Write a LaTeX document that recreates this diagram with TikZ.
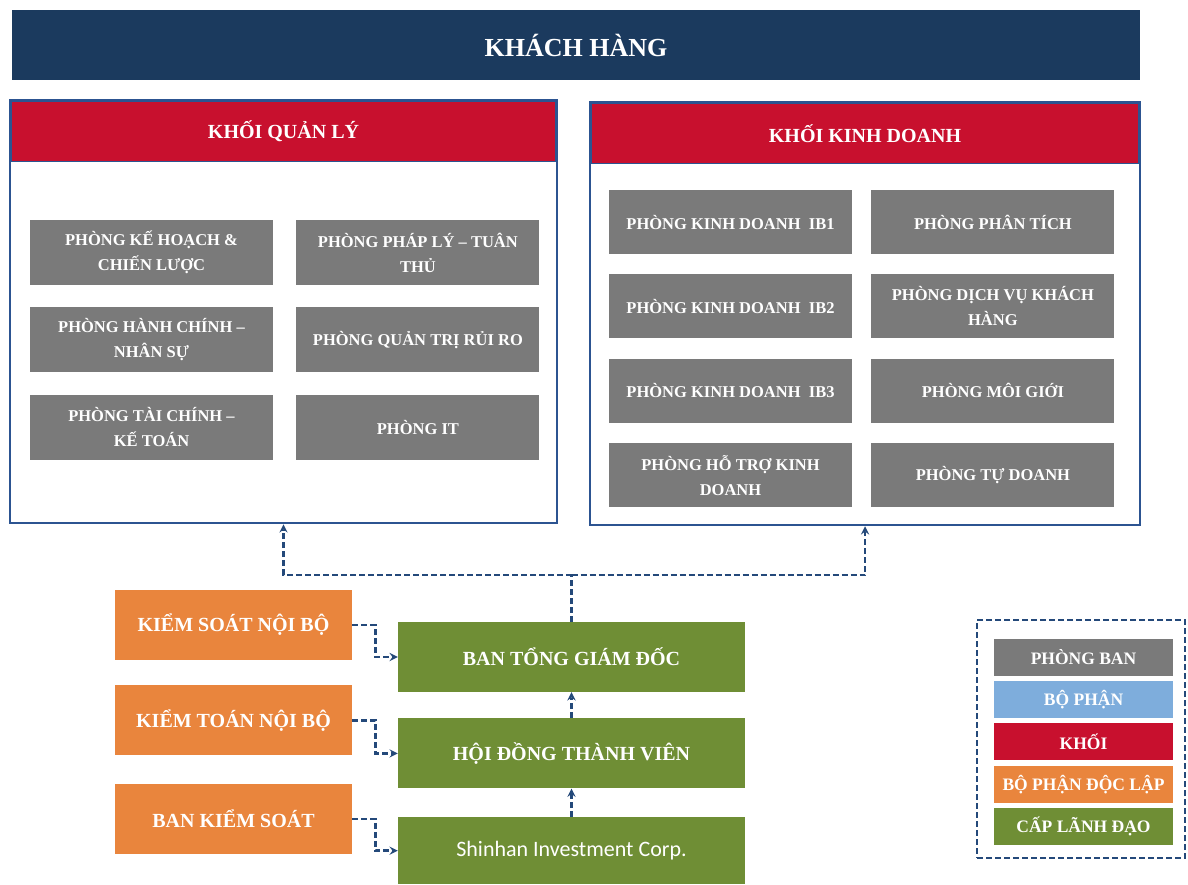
\documentclass[tikz,border=0pt]{standalone}
\usepackage{fontspec}
\setmainfont{Liberation Serif}
\newfontfamily\corpfont{Carlito}
\usetikzlibrary{
  arrows,
  positioning
}
\definecolor{navy}{HTML}{1B3A5E}
\definecolor{khoired}{HTML}{C8102E}
\definecolor{phonggrey}{HTML}{7A7A7A}
\definecolor{bpblue}{HTML}{7EADDC}
\definecolor{doclap}{HTML}{E9853D}
\definecolor{lanhdao}{HTML}{6F8E35}
\definecolor{frameblue}{HTML}{2C5491}
\definecolor{linkblue}{HTML}{24497A}
\tikzset{
  >=stealth,
  x = 1pt, y = -1pt,
  box/.style = {text=white, align=center, inner sep=2pt},
  phong/.style = {box, fill=phonggrey, minimum width=243pt, minimum height=65pt,
    font=\bfseries\fontsize{16.5}{25}\selectfont},
  khoi/.style = {box, fill=khoired, draw=frameblue, line width=1.5pt,
    font=\bfseries\fontsize{20}{24}\selectfont},
  khung/.style = {draw=frameblue, line width=2.5pt},
  doclap/.style = {box, fill=doclap, minimum width=237pt, minimum height=70pt,
    font=\bfseries\fontsize{20}{24}\selectfont},
  lanhdao/.style = {box, fill=lanhdao, minimum width=347pt, minimum height=70pt,
    font=\bfseries\fontsize{20}{24}\selectfont},
  chuthich/.style = {box, minimum width=179pt, minimum height=37pt,
    font=\bfseries\fontsize{17.5}{20}\selectfont},
  link/.style = {draw=linkblue, line width=2.6pt, dash pattern=on 6pt off 3pt},
}
\begin{document}
\begin{tikzpicture}
  \useasboundingbox (0,0) rectangle (1188,884);
  % khach hang
  \node[box, fill=navy, minimum width=1128pt, minimum height=70pt,
    font=\bfseries\fontsize{26}{30}\selectfont] (kh) at (576,45) {KHÁCH HÀNG};

  % khoi quan ly
  \node[khung, minimum width=547pt, minimum height=423pt] (ql) at (283.5,311.5) {};
  \node[khoi, anchor=north, minimum width=545pt, minimum height=60pt] (qlhead)
    at ([yshift=-2pt]ql.north) {KHỐI QUẢN LÝ};
  \node[phong] (kh1) at (151.5,252.5) {PHÒNG KẾ HOẠCH \&\\CHIẾN LƯỢC};
  \node[phong, below=22pt of kh1] (hc) {PHÒNG HÀNH CHÍNH –\\NHÂN SỰ};
  \node[phong, below=22pt of hc] (tc) {PHÒNG TÀI CHÍNH –\\KẾ TOÁN};
  \node[phong, right=23pt of kh1] (pl) {PHÒNG PHÁP LÝ – TUÂN\\THỦ};
  \node[phong, right=23pt of hc] (qt) {PHÒNG QUẢN TRỊ RỦI RO};
  \node[phong, right=23pt of tc] (it) {PHÒNG IT};

  % khoi kinh doanh
  \node[khung, minimum width=550pt, minimum height=423pt] (kd) at (865,313.5) {};
  \node[khoi, anchor=north, minimum width=548pt, minimum height=60pt] (kdhead)
    at ([yshift=-2pt]kd.north) {KHỐI KINH DOANH};
  \node[phong, minimum height=64pt] (ib1) at (730.5,222) {PHÒNG KINH DOANH \ IB1};
  \node[phong, minimum height=64pt, below=20pt of ib1] (ib2) {PHÒNG KINH DOANH \ IB2};
  \node[phong, minimum height=64pt, below=20pt of ib2] (ib3) {PHÒNG KINH DOANH \ IB3};
  \node[phong, minimum height=64pt, below=20pt of ib3] (ht) {PHÒNG HỖ TRỢ KINH\\DOANH};
  \node[phong, minimum height=64pt, right=19pt of ib1] (pt) {PHÒNG PHÂN TÍCH};
  \node[phong, minimum height=64pt, right=19pt of ib2] (dv) {PHÒNG DỊCH VỤ KHÁCH\\HÀNG};
  \node[phong, minimum height=64pt, right=19pt of ib3] (mg) {PHÒNG MÔI GIỚI};
  \node[phong, minimum height=64pt, right=19pt of ht] (td) {PHÒNG TỰ DOANH};

  % lanh dao va bo phan doc lap
  \node[lanhdao] (btgd) at (571.5,657) {BAN TỔNG GIÁM ĐỐC};
  \node[lanhdao, below=26pt of btgd] (hdtv) {HỘI ĐỒNG THÀNH VIÊN};
  \node[lanhdao, minimum height=67pt, anchor=north, font=\corpfont\fontsize{22}{26}\selectfont]
    (shc) at (571.5,817) {Shinhan Investment Corp.};
  \node[doclap] (ksnb) at (233.5,625) {KIỂM SOÁT NỘI BỘ};
  \node[doclap, below=25pt of ksnb] (ktnb) {KIỂM TOÁN NỘI BỘ};
  \node[doclap, below=28pt of ktnb] (bks) {BAN KIỂM SOÁT};

  \coordinate (tach) at (btgd.north |- 0,575);
  \draw[link] (btgd.north) -- (tach);
  \draw[link, ->] (tach) -| (ql.south);
  \draw[link, ->] (tach) -| (kd.south);
  \draw[link, ->] (hdtv.north) -- (btgd.south);
  \draw[link, ->] (shc.north) -- (hdtv.south);
  \draw[link, ->] (ksnb.east) -- ++(23,0) |- (btgd.west);
  \draw[link, ->] (ktnb.east) -- ++(23,0) |- (hdtv.west);
  \draw[link, ->] (bks.east) -- ++(23,0) |- (shc.west);

  % chu thich
  \node[link, minimum width=208pt, minimum height=238pt] (ct) at (1081,739) {};
  \node[chuthich, fill=phonggrey] (ctpb) at (1083.5,657) {PHÒNG BAN};
  \node[chuthich, fill=bpblue, below=5pt of ctpb] (ctbp) {BỘ PHẬN};
  \node[chuthich, fill=khoired, below=5pt of ctbp] (ctk) {KHỐI};
  \node[chuthich, fill=doclap, below=5pt of ctk] (ctdl) {BỘ PHẬN ĐỘC LẬP};
  \node[chuthich, fill=lanhdao, below=5pt of ctdl] (ctld) {CẤP LÃNH ĐẠO};
\end{tikzpicture}
\end{document}
